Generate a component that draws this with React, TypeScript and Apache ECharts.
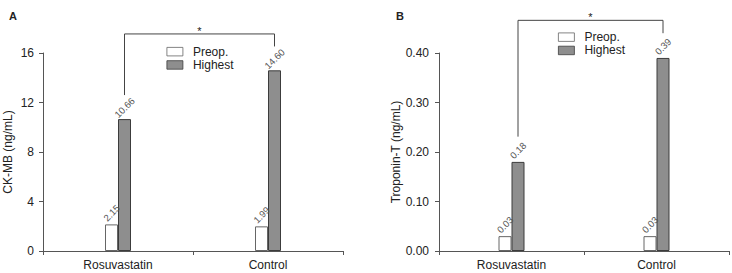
import React, { useEffect, useRef } from "react";
import * as echarts from "echarts";

// Groups on the x axis of both panels
const groups = ["Rosuvastatin", "Control"];

// Panel A: CK-MB (ng/mL)
const ckmbPreop = [2.15, 1.99];
const ckmbHighest = [10.66, 14.6];
const ckmbTicks = [0, 4, 8, 12, 16];

// Panel B: Troponin-T (ng/mL)
const tntPreop = [0.03, 0.03];
const tntHighest = [0.18, 0.39];
const tntTicks = [0, 0.1, 0.2, 0.3, 0.4];

// Significance brackets: [from group, to group, left foot, top, right foot]
const ckmbBracket = [0, 1, 12.6, 17.54, 16.53];
const tntBracket = [0, 1, 0.231, 0.466, 0.44];

const FONT = "'Liberation Sans', Arial, sans-serif";
const BAR_W = 13;
const AXIS_COLOR = "#555";
const TEXT_COLOR = "#222";

const preopStyle = { color: "#ffffff", borderColor: "#666", borderWidth: 1 };
const highestStyle = { color: "#8e8e8e", borderColor: "#3c3c3c", borderWidth: 1 };

function valueLabel(fmt: (v: number) => string) {
  return {
    show: true,
    position: "top" as const,
    distance: 11.5,
    rotate: 45,
    align: "center",
    verticalAlign: "middle",
    fontSize: 9.5,
    fontFamily: FONT,
    color: "#555",
    formatter: (p: any) => fmt(p.value),
  };
}

function bracketRender(params: any, api: any) {
  const half = BAR_W / 2;
  const xl = api.coord([api.value(0), 0])[0] + half;
  const xr = api.coord([api.value(1), 0])[0] + half;
  const yl = api.coord([0, api.value(2)])[1];
  const yt = api.coord([0, api.value(3)])[1];
  const yr = api.coord([0, api.value(4)])[1];
  return {
    type: "group",
    children: [
      {
        type: "polyline",
        shape: { points: [[xl, yl], [xl, yt], [xr, yt], [xr, yr]] },
        style: { stroke: "#444", lineWidth: 1, fill: "none" },
      },
      {
        type: "text",
        style: {
          text: "*",
          x: (xl + xr) / 2,
          y: yt + 2.5,
          align: "center",
          verticalAlign: "bottom",
          fontSize: 11,
          fontFamily: FONT,
          fill: TEXT_COLOR,
        },
      },
    ],
  };
}

function yAxisFor(idx: number, name: string, ticks: number[], fmt: (v: number) => string, nameGap: number, margin: number) {
  return {
    gridIndex: idx,
    type: "value",
    min: ticks[0],
    max: ticks[ticks.length - 1],
    interval: ticks[1] - ticks[0],
    name,
    nameLocation: "middle",
    nameGap,
    nameTextStyle: { fontSize: 12, fontFamily: FONT, color: TEXT_COLOR },
    axisLine: { show: true, lineStyle: { color: AXIS_COLOR, width: 1 } },
    axisTick: { show: true, length: 4, lineStyle: { color: AXIS_COLOR } },
    axisLabel: { fontSize: 12, fontFamily: FONT, color: TEXT_COLOR, margin, formatter: (v: number) => fmt(v) },
    splitLine: { show: false },
  };
}

function xAxisFor(idx: number) {
  return {
    gridIndex: idx,
    type: "category",
    data: groups,
    boundaryGap: true,
    axisLine: { show: true, lineStyle: { color: AXIS_COLOR, width: 1 } },
    axisTick: { show: true, length: 4, lineStyle: { color: AXIS_COLOR } },
    axisLabel: { fontSize: 12, fontFamily: FONT, color: TEXT_COLOR, margin: 8 },
  };
}

function legendFor(left: number, top: number) {
  return {
    left,
    top,
    padding: 0,
    orient: "vertical",
    icon: "rect",
    itemWidth: 16,
    itemHeight: 8.5,
    itemGap: 0,
    data: ["Preop.", "Highest"],
    itemStyle: { borderWidth: 0.8 },
    textStyle: { fontSize: 12, fontFamily: FONT, color: TEXT_COLOR, lineHeight: 13.3, padding: [0, 0, 0, 5] },
    selectedMode: false,
  };
}

export default function App() {
  const ref = useRef<HTMLDivElement>(null);

  useEffect(() => {
    if (!ref.current) return;
    const chart = echarts.init(ref.current, undefined, { renderer: "svg" });
    const f2 = (v: number) => v.toFixed(2);
    const fi = (v: number) => String(v);

    chart.setOption({
      animation: false,
      backgroundColor: "#ffffff",
      title: [
        { text: "A", left: 4, top: 5, textStyle: { fontSize: 11, fontWeight: "bold", fontFamily: FONT, color: TEXT_COLOR } },
        { text: "B", left: 391, top: 5, textStyle: { fontSize: 11, fontWeight: "bold", fontFamily: FONT, color: TEXT_COLOR } },
      ],
      legend: [legendFor(166.5, 45), legendFor(558, 30.5)],
      grid: [
        { left: 43, top: 53, width: 300, height: 198 },
        { left: 439, top: 53, width: 290, height: 198 },
      ],
      xAxis: [xAxisFor(0), xAxisFor(1)],
      yAxis: [
        yAxisFor(0, "CK-MB (ng/mL)", ckmbTicks, fi, 29, 9),
        yAxisFor(1, "Troponin-T (ng/mL)", tntTicks, f2, 37, 10),
      ],
      series: [
        {
          name: "Preop.", type: "bar", xAxisIndex: 0, yAxisIndex: 0, data: ckmbPreop,
          barWidth: BAR_W, barGap: "0%", itemStyle: preopStyle, label: valueLabel(f2),
        },
        {
          name: "Highest", type: "bar", xAxisIndex: 0, yAxisIndex: 0, data: ckmbHighest,
          barWidth: BAR_W, barGap: "0%", itemStyle: highestStyle, label: valueLabel(f2),
        },
        {
          name: "Preop.", type: "bar", xAxisIndex: 1, yAxisIndex: 1, data: tntPreop,
          barWidth: BAR_W, barGap: "0%", itemStyle: preopStyle, label: valueLabel(f2),
        },
        {
          name: "Highest", type: "bar", xAxisIndex: 1, yAxisIndex: 1, data: tntHighest,
          barWidth: BAR_W, barGap: "0%", itemStyle: highestStyle, label: valueLabel(f2),
        },
        {
          type: "custom", xAxisIndex: 0, yAxisIndex: 0, clip: false, silent: true,
          renderItem: bracketRender, data: [ckmbBracket],
        },
        {
          type: "custom", xAxisIndex: 1, yAxisIndex: 1, clip: false, silent: true,
          renderItem: bracketRender, data: [tntBracket],
        },
      ],
    });

    return () => chart.dispose();
  }, []);

  return (
    <div
      ref={ref}
      style={{ position: "absolute", left: 0, top: 0, width: 732, height: 273 }}
    />
  );
}
